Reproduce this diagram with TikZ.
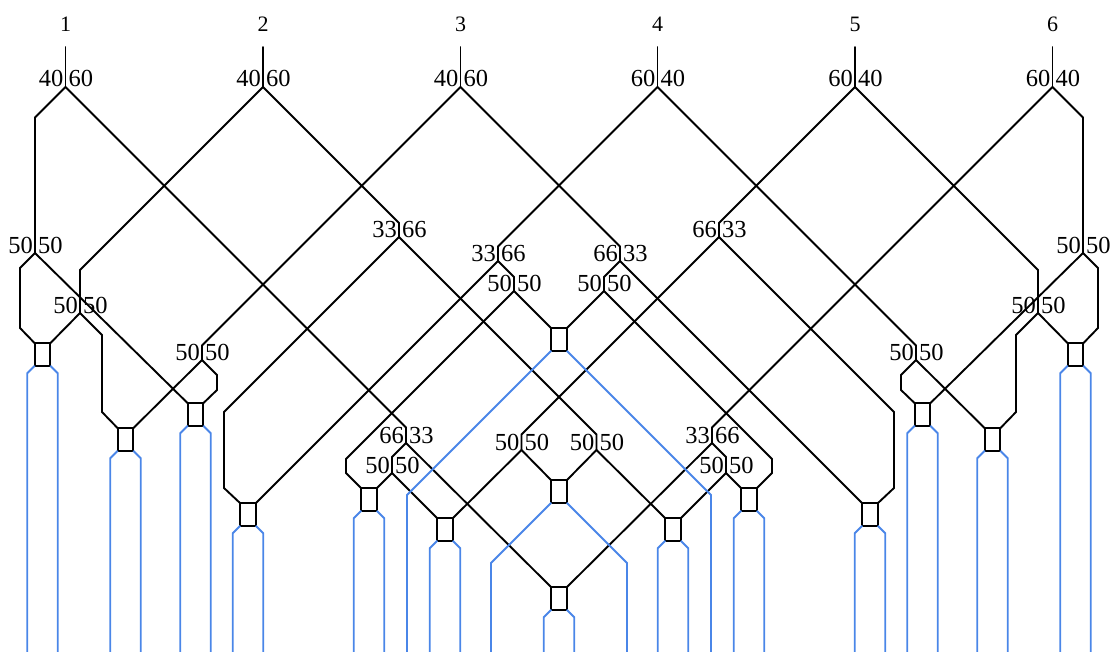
\documentclass[tikz,border=0pt]{standalone}
\usepackage{fontspec}
\setmainfont{Liberation Serif}
\definecolor{outblue}{RGB}{74,134,232}
\tikzset{
  fibre/.style={line width=1.9pt, line cap=round},
  outfibre/.style={line width=1.9pt, draw=outblue},
  coupler/.style={draw, line width=1.9pt, rectangle, minimum width=15.5pt,
    minimum height=22.5pt, inner sep=0pt, outer sep=0pt},
  ratiotext/.style={font=\fontsize{24.5}{28}\selectfont, inner sep=0pt},
  portnum/.style={font=\fontsize{22}{26}\selectfont, inner sep=0pt, anchor=base},
}
% split ratio written on both sides of a splitter
\newcommand{\ratiolabels}[3]{%
  \node[ratiotext, anchor=base east] (#1-l) at ([xshift=-2pt]#1) {#2};
  \node[ratiotext, anchor=base west] (#1-r) at ([xshift=3pt]#1) {#3};}
\begin{document}
\begin{tikzpicture}[x=1pt, y=-1pt]
\useasboundingbox (0,0) rectangle (1115,652);

% input ports
\node[portnum] (n1) at (65.5,32) {1};
\node[portnum] (n2) at (263,32) {2};
\node[portnum] (n3) at (460.5,32) {3};
\node[portnum] (n4) at (657.5,32) {4};
\node[portnum] (n5) at (855,32) {5};
\node[portnum] (n6) at (1052.5,32) {6};
\coordinate (in1) at (65.5,47);
\coordinate (in2) at (263,47);
\coordinate (in3) at (460.5,47);
\coordinate (in4) at (657.5,47);
\coordinate (in5) at (855,47);
\coordinate (in6) at (1052.5,47);

% splitters
\coordinate (T1) at (65.5,87);
\coordinate (T2) at (263,87);
\coordinate (T3) at (460.5,87);
\coordinate (T4) at (657.5,87);
\coordinate (T5) at (855,87);
\coordinate (T6) at (1052.5,87);
\coordinate (A) at (35,253);
\coordinate (B) at (80,313);
\coordinate (C) at (399,237);
\coordinate (D) at (202,360);
\coordinate (E) at (498,261);
\coordinate (F) at (406,443);
\coordinate (G) at (514,291);
\coordinate (H) at (521.5,450);
\coordinate (I) at (392,473);
\coordinate (Ar) at (1083,253);
\coordinate (Br) at (1038,313);
\coordinate (Cr) at (719,237);
\coordinate (Dr) at (916,360);
\coordinate (Er) at (620,261);
\coordinate (Fr) at (712,443);
\coordinate (Gr) at (604,291);
\coordinate (Hr) at (596.5,450);
\coordinate (Ir) at (726,473);

% couplers
\node[coupler] (P1) at (42.5,354.5) {};
\node[coupler] (P2) at (125.5,439.5) {};
\node[coupler] (P3) at (195.5,414.5) {};
\node[coupler] (P4) at (248,514.5) {};
\node[coupler] (J) at (369,499.5) {};
\node[coupler] (K) at (445,529.5) {};
\node[coupler] (L) at (559,339.5) {};
\node[coupler] (M) at (559,491.5) {};
\node[coupler] (N) at (559,598.5) {};
\node[coupler] (P1r) at (1075.5,354.5) {};
\node[coupler] (P2r) at (992.5,439.5) {};
\node[coupler] (P3r) at (922.5,414.5) {};
\node[coupler] (P4r) at (870,514.5) {};
\node[coupler] (Jr) at (749,499.5) {};
\node[coupler] (Kr) at (673,529.5) {};

% input fibres
\draw[fibre] (in1) -- (T1);
\draw[fibre] (in2) -- (T2);
\draw[fibre] (in3) -- (T3);
\draw[fibre] (in4) -- (T4);
\draw[fibre] (in5) -- (T5);
\draw[fibre] (in6) -- (T6);

% first stage
\draw[fibre] (T1) -- (35,117.5) -- (A);
\draw[fibre] (T1) -- (406,427.5) -- (F);
\draw[fibre] (T2) -- (80,270) -- (B);
\draw[fibre] (T2) -- (399,223) -- (C);
\draw[fibre] (T3) -- (202,345.5) -- (D);
\draw[fibre] (T3) -- (620,246.5) -- (Er);
\draw[fibre] (T4) -- (498,246.5) -- (E);
\draw[fibre] (T4) -- (916,345.5) -- (Dr);
\draw[fibre] (T5) -- (719,223) -- (Cr);
\draw[fibre] (T5) -- (1038,270) -- (Br);
\draw[fibre] (T6) -- (712,427.5) -- (Fr);
\draw[fibre] (T6) -- (1083,117.5) -- (Ar);

% left half
\draw[fibre] (A) -- (20,268) -- (20,328) -- (P1.north west);
\draw[fibre] (A) -- (P3.north west);
\draw[fibre] (B) -- (P1.north east);
\draw[fibre] (B) -- (102,335) -- (102,412) -- (P2.north west);
\draw[fibre] (C) -- (224,412) -- (224,488) -- (P4.north west);
\draw[fibre] (C) -- (596.5,434.5) -- (Hr);
\draw[fibre] (D) -- (P2.north east);
\draw[fibre] (D) -- (217,375) -- (217,390) -- (P3.north east);
\draw[fibre] (E) -- (P4.north east);
\draw[fibre] (E) -- (514,277) -- (G);
\draw[fibre] (F) -- (392,457) -- (I);
\draw[fibre] (F) -- (N.north west);
\draw[fibre] (G) -- (346,459) -- (346,473) -- (J.north west);
\draw[fibre] (G) -- (L.north west);
\draw[fibre] (H) -- (K.north east);
\draw[fibre] (H) -- (M.north west);
\draw[fibre] (I) -- (J.north east);
\draw[fibre] (I) -- (K.north west);

% right half
\draw[fibre] (Ar) -- (1098,268) -- (1098,328) -- (P1r.north east);
\draw[fibre] (Ar) -- (P3r.north east);
\draw[fibre] (Br) -- (P1r.north west);
\draw[fibre] (Br) -- (1016,335) -- (1016,412) -- (P2r.north east);
\draw[fibre] (Cr) -- (894,412) -- (894,488) -- (P4r.north east);
\draw[fibre] (Cr) -- (521.5,434.5) -- (H);
\draw[fibre] (Dr) -- (P2r.north west);
\draw[fibre] (Dr) -- (901,375) -- (901,390) -- (P3r.north west);
\draw[fibre] (Er) -- (P4r.north west);
\draw[fibre] (Er) -- (604,277) -- (Gr);
\draw[fibre] (Fr) -- (726,457) -- (Ir);
\draw[fibre] (Fr) -- (N.north east);
\draw[fibre] (Gr) -- (772,459) -- (772,473) -- (Jr.north east);
\draw[fibre] (Gr) -- (L.north east);
\draw[fibre] (Hr) -- (Kr.north west);
\draw[fibre] (Hr) -- (M.north east);
\draw[fibre] (Ir) -- (Jr.north west);
\draw[fibre] (Ir) -- (Kr.north east);

% outputs
\draw[outfibre] (P1.south west) -- (27.25,373.25) -- (27.25,652);
\draw[outfibre] (P1.south east) -- (57.75,373.25) -- (57.75,652);
\draw[outfibre] (P2.south west) -- (110.25,458.25) -- (110.25,652);
\draw[outfibre] (P2.south east) -- (140.75,458.25) -- (140.75,652);
\draw[outfibre] (P3.south west) -- (180.25,433.25) -- (180.25,652);
\draw[outfibre] (P3.south east) -- (210.75,433.25) -- (210.75,652);
\draw[outfibre] (P4.south west) -- (232.75,533.25) -- (232.75,652);
\draw[outfibre] (P4.south east) -- (263.25,533.25) -- (263.25,652);
\draw[outfibre] (J.south west) -- (353.75,518.25) -- (353.75,652);
\draw[outfibre] (J.south east) -- (384.25,518.25) -- (384.25,652);
\draw[outfibre] (K.south west) -- (429.75,548.25) -- (429.75,652);
\draw[outfibre] (K.south east) -- (460.25,548.25) -- (460.25,652);
\draw[outfibre] (L.south west) -- (407,495) -- (407,652);
\draw[outfibre] (L.south east) -- (711,495) -- (711,652);
\draw[outfibre] (M.south west) -- (491,563) -- (491,652);
\draw[outfibre] (M.south east) -- (627,563) -- (627,652);
\draw[outfibre] (N.south west) -- (543.75,617.25) -- (543.75,652);
\draw[outfibre] (N.south east) -- (574.25,617.25) -- (574.25,652);
\draw[outfibre] (Kr.south west) -- (657.75,548.25) -- (657.75,652);
\draw[outfibre] (Kr.south east) -- (688.25,548.25) -- (688.25,652);
\draw[outfibre] (Jr.south west) -- (733.75,518.25) -- (733.75,652);
\draw[outfibre] (Jr.south east) -- (764.25,518.25) -- (764.25,652);
\draw[outfibre] (P4r.south west) -- (854.75,533.25) -- (854.75,652);
\draw[outfibre] (P4r.south east) -- (885.25,533.25) -- (885.25,652);
\draw[outfibre] (P3r.south west) -- (907.25,433.25) -- (907.25,652);
\draw[outfibre] (P3r.south east) -- (937.75,433.25) -- (937.75,652);
\draw[outfibre] (P2r.south west) -- (977.25,458.25) -- (977.25,652);
\draw[outfibre] (P2r.south east) -- (1007.75,458.25) -- (1007.75,652);
\draw[outfibre] (P1r.south west) -- (1060.25,373.25) -- (1060.25,652);
\draw[outfibre] (P1r.south east) -- (1090.75,373.25) -- (1090.75,652);

% split ratios
\ratiolabels{T1}{40}{60}
\ratiolabels{T2}{40}{60}
\ratiolabels{T3}{40}{60}
\ratiolabels{T4}{60}{40}
\ratiolabels{T5}{60}{40}
\ratiolabels{T6}{60}{40}
\ratiolabels{A}{50}{50}
\ratiolabels{B}{50}{50}
\ratiolabels{C}{33}{66}
\ratiolabels{D}{50}{50}
\ratiolabels{E}{33}{66}
\ratiolabels{F}{66}{33}
\ratiolabels{G}{50}{50}
\ratiolabels{H}{50}{50}
\ratiolabels{I}{50}{50}
\ratiolabels{Ar}{50}{50}
\ratiolabels{Br}{50}{50}
\ratiolabels{Cr}{66}{33}
\ratiolabels{Dr}{50}{50}
\ratiolabels{Er}{66}{33}
\ratiolabels{Fr}{33}{66}
\ratiolabels{Gr}{50}{50}
\ratiolabels{Hr}{50}{50}
\ratiolabels{Ir}{50}{50}
\end{tikzpicture}
\end{document}
